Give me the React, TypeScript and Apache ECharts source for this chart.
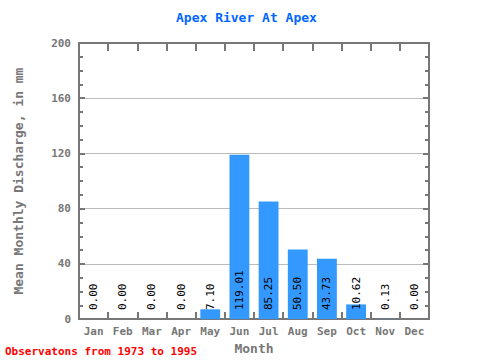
import React, { useEffect, useRef } from "react";
import * as echarts from "echarts";

const months = ["Jan", "Feb", "Mar", "Apr", "May", "Jun", "Jul", "Aug", "Sep", "Oct", "Nov", "Dec"];
const discharge = [0.0, 0.0, 0.0, 0.0, 7.1, 119.01, 85.25, 50.5, 43.73, 10.62, 0.13, 0.0];
const yMin = 0;
const yMax = 200;
const yInterval = 40;

const FONT = "DejaVu Sans Mono";
const AXIS = "#777777";

export default function App() {
  const ref = useRef<HTMLDivElement>(null);
  useEffect(() => {
    const chart = echarts.init(ref.current!, undefined, { renderer: "svg" });
    const axisCommon = {
      axisLine: { show: true, onZero: false, lineStyle: { color: AXIS, width: 2 } },
    };
    chart.setOption({
      animation: false,
      backgroundColor: "#ffffff",
      grid: { left: 79, right: 51, top: 43, bottom: 38, containLabel: false },
      graphic: [
        {
          type: "text",
          left: 248 - 72,
          top: 11,
          style: {
            text: "Apex River At Apex",
            fill: "#0066ff",
            font: `bold 13px "${FONT}"`,
          },
        },
        {
          type: "text",
          left: 5,
          top: 346,
          style: {
            text: "Observatons from 1973 to 1995",
            fill: "#ff0000",
            font: `bold 11px "${FONT}"`,
          },
        },
      ],
      xAxis: [
        {
          type: "category",
          data: months,
          position: "bottom",
          ...axisCommon,
          axisTick: { show: true, inside: true, interval: 0, length: 7, alignWithLabel: false, lineStyle: { color: AXIS, width: 2 } },
          axisLabel: { color: AXIS, fontFamily: FONT, fontSize: 11, fontWeight: "bold", margin: 7, interval: 0 },
          name: "Month",
          nameLocation: "middle",
          nameGap: 20,
          nameTextStyle: { color: AXIS, fontFamily: FONT, fontSize: 13, fontWeight: "bold" },
          splitLine: { show: false },
        },
        {
          type: "category",
          data: months,
          position: "top",
          ...axisCommon,
          axisTick: { show: true, inside: true, interval: 0, length: 8, lineStyle: { color: AXIS, width: 2 } },
          axisLabel: { show: false, interval: 0 },
          splitLine: { show: false },
        },
      ],
      yAxis: [
        {
          type: "value",
          min: yMin,
          max: yMax,
          interval: yInterval,
          position: "left",
          ...axisCommon,
          axisTick: { show: true, inside: true, length: 6, lineStyle: { color: AXIS, width: 2 } },
          minorTick: { show: true, splitNumber: 4, length: 4, lineStyle: { color: AXIS, width: 2 } },
          axisLabel: { color: AXIS, fontFamily: FONT, fontSize: 11, fontWeight: "bold", margin: 8 },
          splitLine: { show: true, lineStyle: { color: "#bbbbbb", width: 1 } },
          name: "Mean Monthly Discharge, in mm",
          nameLocation: "middle",
          nameGap: 54,
          nameRotate: 90,
          nameTextStyle: { color: AXIS, fontFamily: FONT, fontSize: 13, fontWeight: "bold" },
        },
        {
          type: "value",
          min: yMin,
          max: yMax,
          interval: yInterval,
          position: "right",
          ...axisCommon,
          axisTick: { show: true, inside: true, length: 6, lineStyle: { color: AXIS, width: 2 } },
          minorTick: { show: true, splitNumber: 4, length: 4, lineStyle: { color: AXIS, width: 2 } },
          axisLabel: { show: false },
          splitLine: { show: false },
        },
      ],
      series: [
        {
          type: "bar",
          data: discharge,
          xAxisIndex: 0,
          yAxisIndex: 0,
          barWidth: "68%",
          itemStyle: { color: "#3399ff" },
          label: {
            show: true,
            position: "insideBottom",
            rotate: 90,
            align: "left",
            verticalAlign: "middle",
            distance: 9,
            color: "#000000",
            fontFamily: FONT,
            fontSize: 11,
            formatter: (p: any) => Number(p.value).toFixed(2),
          },
        },
      ],
    });
    return () => chart.dispose();
  }, []);
  return (
    <div
      ref={ref}
      style={{ position: "fixed", left: 0, top: 0, width: 480, height: 360 }}
    />
  );
}
